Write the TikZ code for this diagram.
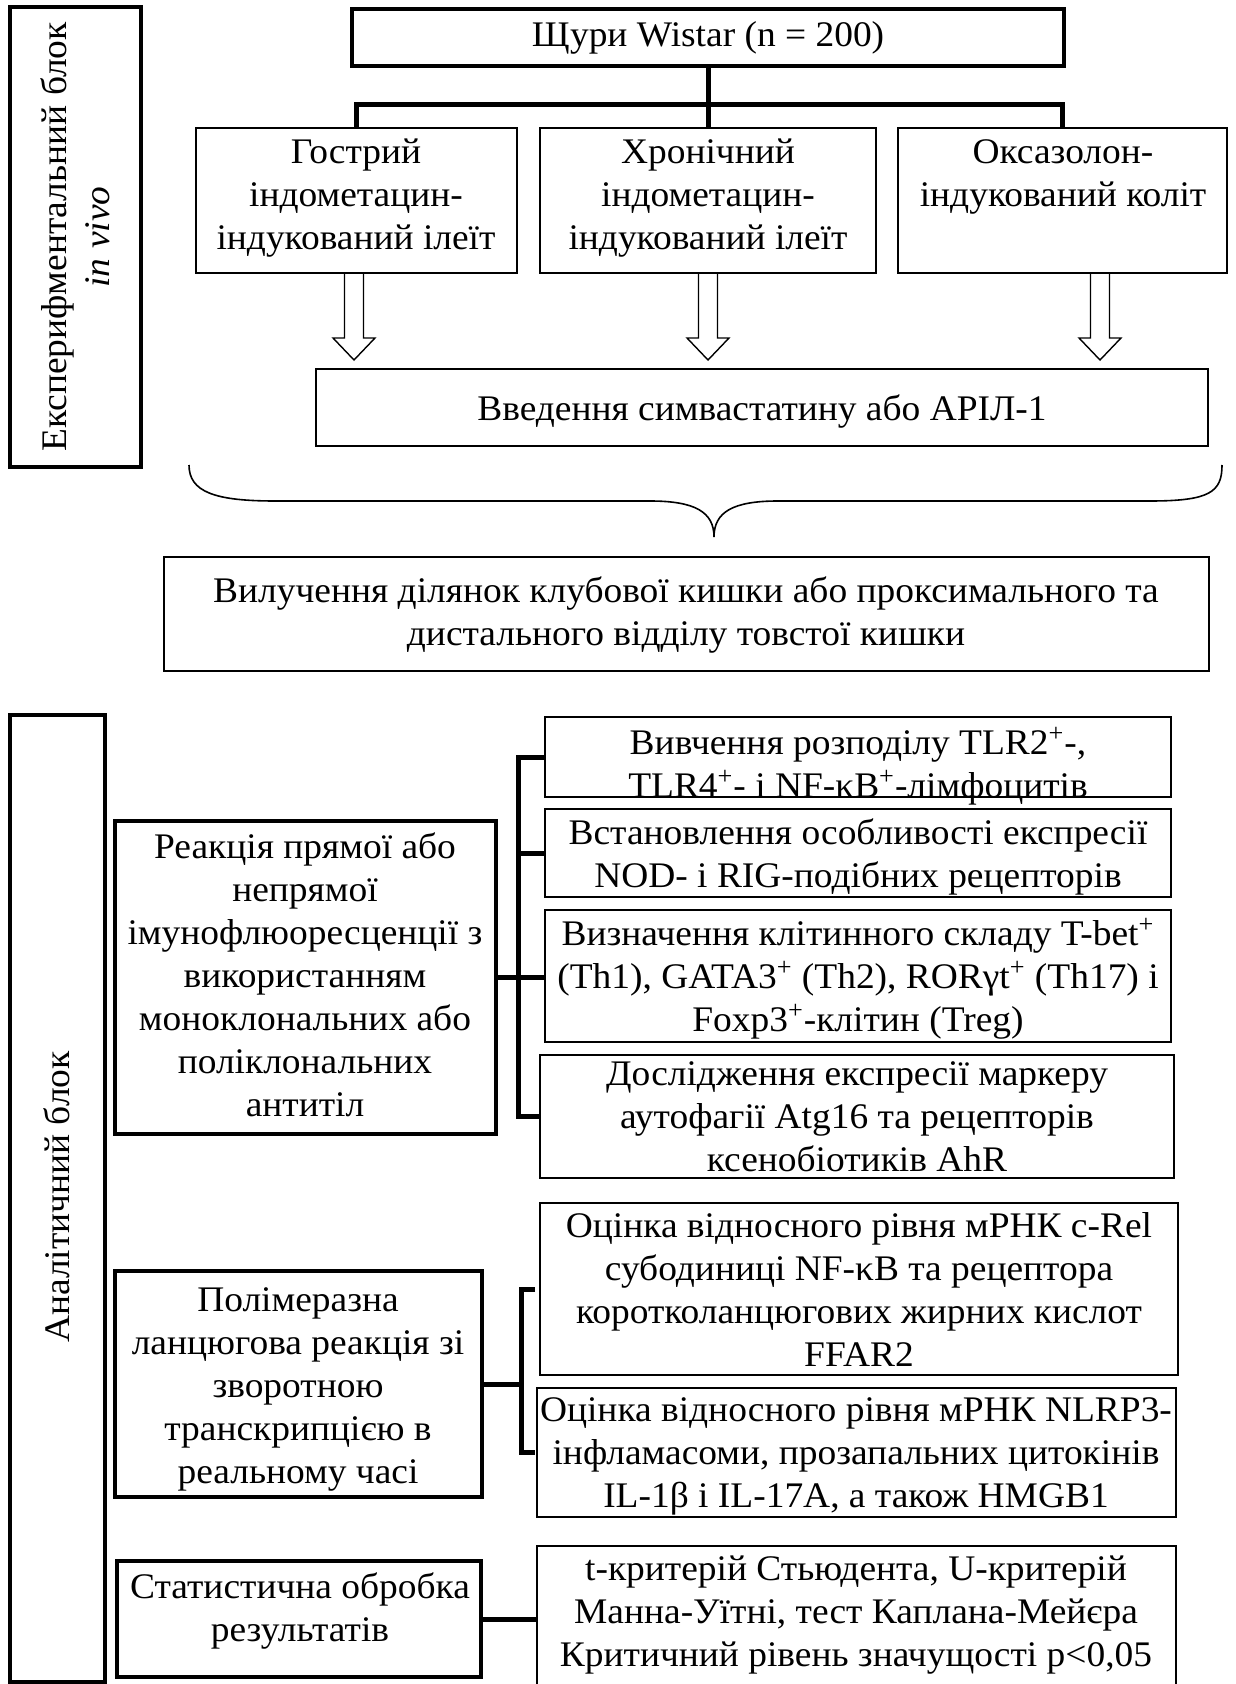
\documentclass[tikz,border=0pt]{standalone}
\usepackage{fontspec}
\setmainfont{Liberation Serif}[FakeStretch=1.04]
\newcommand\fs{\fontsize{18}{21.5}\selectfont}
\newcommand\placebox[6]{\node[#2, minimum width={(#5-#3)*0.5pt}, minimum height={(#6-#4)*0.5pt}] (#1) at ({(#3+#5)/2},{(#4+#6)/2}) {};}
\begin{document}
\begin{tikzpicture}[x=0.5pt,y=-0.5pt,
  every node/.style={inner sep=0pt, outer sep=0pt},
  thickbox/.style={draw, rectangle, line width=1.75pt},
  thinbox/.style={draw, rectangle, line width=0.8pt},
  midbox/.style={draw, rectangle, line width=1.1pt},
  txt/.style={align=center, font=\fs},
  conn/.style={line width=2.5pt, line join=miter},
  harrow/.style={draw, line width=0.7pt, line join=miter},
  brace/.style={line width=0.8pt}]
\useasboundingbox (0,0) rectangle (1235,1684);
\fill[white] (0,0) rectangle (1235,1684);

% ---------- experimental block ----------
\placebox{exp}{thickbox}{10}{7}{141}{467}
\node[txt, rotate=90] (texp) at (75,237) {Експерифментальний блок\\\textit{in vivo}};

\placebox{top}{thickbox}{352}{9}{1064}{66}
\node[txt] (ttop) at (top.center) {Щури Wistar (n = 200)};

\placebox{b1}{thinbox}{196}{128}{517}{273}
\placebox{b2}{thinbox}{540}{128}{876}{273}
\placebox{b3}{thinbox}{898}{128}{1227}{273}
\node[txt] (t1) at (356,198) {Гострий\\індометацин-\\індукований ілеїт};
\node[txt] (t2) at (708,198) {Хронічний\\індометацин-\\індукований ілеїт};
\node[txt] (t3) at (1063,177) {Оксазолон-\\індукований коліт};

\placebox{vv}{thinbox}{316}{369}{1208}{446}
\node[txt] (tvv) at (762,412) {Введення симвастатину або АРІЛ-1};

\placebox{vl}{midbox}{164}{557}{1209}{671}
\node[txt] (tvl) at (686,615) {Вилучення ділянок клубової кишки або проксимального та\\дистального відділу товстої кишки};

% connectors top
\draw[conn] (top.south) -- (b2.north);
\draw[conn] (b1.north) -- ++(0,-23) -| (b3.north);

% hollow arrows
\draw[harrow] (b1.south) ++(-12,0) -- ++(0,65) -- ++(-11.5,0) -- ++(21,22) -- ++(21,-22) -- ++(-11.5,0) -- ++(0,-65);
\draw[harrow] (b2.south) ++(-9.5,0) -- ++(0,65) -- ++(-11.5,0) -- ++(21,22) -- ++(21,-22) -- ++(-11.5,0) -- ++(0,-65);
\draw[harrow] (b3.south) ++(28,0) -- ++(0,65) -- ++(-11.5,0) -- ++(21,22) -- ++(21,-22) -- ++(-11.5,0) -- ++(0,-65);

% brace
\draw[brace] (189,465) .. controls (189,492) and (215,501) .. (275,501) -- (650,501)
  .. controls (695,501) and (714,512) .. (714,537)
  .. controls (714,512) and (733,501) .. (778,501) -- (1150,501)
  .. controls (1210,501) and (1222,492) .. (1222,465);

% ---------- analytic block ----------
\placebox{an}{thickbox}{10}{715}{105}{1682}
\node[txt, rotate=90] (tan) at (57,1197) {Аналітичний блок};

\placebox{r1}{thickbox}{115}{821}{496}{1134}
\node[txt] (tr1) at (305,975) {Реакція прямої або\\непрямої\\імунофлюоресценції з\\використанням\\моноклональних або\\поліклональних\\антитіл};

\placebox{ba}{thinbox}{545}{717}{1171}{797}
\placebox{bb}{thinbox}{545}{809}{1171}{897}
\placebox{bc}{thinbox}{545}{910}{1171}{1042}
\placebox{bd}{thinbox}{540}{1055}{1174}{1178}
\node[txt] (ta) at (858,766) {Вивчення розподілу TLR2\textsuperscript{+}-,\\TLR4\textsuperscript{+}- і NF-κB\textsuperscript{+}-лімфоцитів};
\node[txt] (tb) at (858,857) {Встановлення особливості експресії\\NOD- і RIG-подібних рецепторів};
\node[txt] (tc) at (858,979) {Визначення клітинного складу T-bet\textsuperscript{+}\\(Th1), GATA3\textsuperscript{+} (Th2), RORγt\textsuperscript{+} (Th17) і\\Foxp3\textsuperscript{+}-клітин (Treg)};
\node[txt] (td) at (857,1117) {Дослідження експресії маркеру\\аутофагії Atg16 та рецепторів\\ксенобіотиків AhR};

\draw[conn] (ba.west) -- ++(-27,0) |- (bd.west);
\draw[conn] (bb.west) -- ++(-27,0);
\draw[conn] (r1.east) -- (r1.east -| bc.west);

\placebox{p}{thickbox}{115}{1271}{482}{1497}
\node[txt] (tp) at (298,1389) {Полімеразна\\ланцюгова реакція зі\\зворотною\\транскрипцією в\\реальному часі};

\placebox{be}{thinbox}{540}{1203}{1178}{1375}
\placebox{bf}{thinbox}{537}{1388}{1176}{1517}
\node[txt] (te) at (859,1289) {Оцінка відносного рівня мРНК c-Rel\\субодиниці NF-κB та рецептора\\коротколанцюгових жирних кислот\\FFAR2};
\node[txt] (tf) at (856,1456) {Оцінка відносного рівня мРНК NLRP3-\\інфламасоми, прозапальних цитокінів\\IL-1β і IL-17A, а також HMGB1};

\coordinate (bus2) at (521,1384);
\draw[conn] ([xshift=-2.5pt]be.west) -- ++(-14,0) |- ([xshift=-1pt]bf.west);
\draw[conn] (p.east) -- (p.east -| bus2);

\placebox{s}{thickbox}{117}{1561}{481}{1677}
\node[txt] (ts) at (300,1611) {Статистична обробка\\результатів};
\placebox{bg}{thinbox}{537}{1546}{1176}{1720}
\node[txt] (tg) at (856,1615) {t-критерій Стьюдента, U-критерій\\Манна-Уїтні, тест Каплана-Мейєра\\Критичний рівень значущості р<0,05};

\draw[conn] (s.east) -- (s.east -| bg.west);
\end{tikzpicture}
\end{document}
